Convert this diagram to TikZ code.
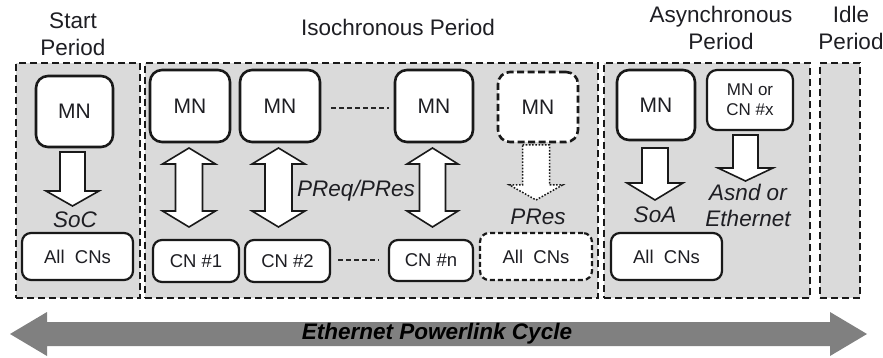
\documentclass[tikz,border=0pt]{standalone}
\usepackage{fontspec}
\setmainfont{Liberation Sans}
\definecolor{boxgrey}{RGB}{218,218,218}
\definecolor{bigarrow}{RGB}{128,128,128}
\definecolor{txt}{RGB}{30,30,35}
% block arrow pointing down: [opts] cx, top, tip, shaft half width, head half width, head length
\newcommand{\blkdown}[7][]{\draw[blockarrow,#1] ({#2-#5},#3) -- ({#2+#5},#3) -- ({#2+#5},{#4-#7}) -- ({#2+#6},{#4-#7}) -- (#2,#4) -- ({#2-#6},{#4-#7}) -- ({#2-#5},{#4-#7}) -- cycle;}
% double block arrow: cx, top tip, bottom tip, shaft half, head half, head length
\newcommand{\blkdouble}[6]{\draw[blockarrow] (#1,#2) -- ({#1+#5},{#2+#6}) -- ({#1+#4},{#2+#6}) -- ({#1+#4},{#3-#6}) -- ({#1+#5},{#3-#6}) -- (#1,#3) -- ({#1-#5},{#3-#6}) -- ({#1-#4},{#3-#6}) -- ({#1-#4},{#2+#6}) -- ({#1-#5},{#2+#6}) -- cycle;}
\begin{document}
\begin{tikzpicture}[x=1pt,y=-1pt,
  period/.style={draw=black!90, line width=2.4pt, dash pattern=on 7pt off 4pt, fill=boxgrey, inner sep=0pt},
  mnbox/.style={draw=black!90, line width=2.6pt, rounded corners=12pt, fill=white, text=txt, inner sep=0pt, font=\fontsize{21}{24}\selectfont},
  mndash/.style={mnbox, dash pattern=on 7pt off 3.5pt},
  cnbox/.style={draw=black!90, line width=2.2pt, rounded corners=9pt, fill=white, text=txt, inner sep=0pt, font=\fontsize{18.5}{20}\selectfont},
  cndash/.style={cnbox, dash pattern=on 5pt off 3pt},
  blockarrow/.style={draw=black!90, line width=1.6pt, fill=white, line join=miter},
  dotarrow/.style={dash pattern=on 1.6pt off 1.6pt, line width=1.5pt},
  head/.style={text=txt, font=\fontsize{22.5}{27}\selectfont, inner sep=0pt, align=center},
  msg/.style={text=txt, font=\fontsize{22.5}{26}\selectfont\itshape, inner sep=0pt, align=center},
  gapline/.style={draw=black!85, line width=2pt, dash pattern=on 5pt off 3pt}]
\useasboundingbox (0,0) rectangle (883,358);

% period frames
\node[period, minimum width=124pt, minimum height=235pt] (sp) at (78,180.5) {};
\node[period, minimum width=453pt, minimum height=235pt] (ip) at (371.5,180.5) {};
\node[period, minimum width=206pt, minimum height=235pt] (ap) at (707,180.5) {};
\node[period, minimum width=40pt, minimum height=235pt] (dp) at (840,180.5) {};

% period headings
\node[head] (hs) at (73,34) {Start\\Period};
\node[head] (hi) at (398,27) {Isochronous Period};
\node[head] (ha) at (721,28) {Asynchronous\\Period};
\node[head] (hd) at (851,28) {Idle\\Period};

% MN boxes
\node[mnbox, minimum width=77pt, minimum height=71pt] (mn0) at (74.5,111.5) {MN};
\node[mnbox, minimum width=80pt, minimum height=72pt] (mn1) at (190,106) {MN};
\node[mnbox, minimum width=80pt, minimum height=72pt] (mn2) at (280,106) {MN};
\node[mnbox, minimum width=78pt, minimum height=72pt] (mn3) at (434,106) {MN};
\node[mndash, minimum width=80pt, minimum height=70pt] (mn4) at (538,107) {MN};
\node[mnbox, minimum width=78pt, minimum height=70pt] (mn5) at (656,105) {MN};
\node[mnbox, line width=2.2pt, rounded corners=10pt, minimum width=86pt, minimum height=60pt,
      font=\fontsize{17}{20}\selectfont, align=center] (mnx) at (750,100) {MN or\\CN \#x};

% CN boxes
\node[cnbox, minimum width=111pt, minimum height=47pt] (all0) at (77.5,256.5) {All\ \ CNs};
\node[cnbox, minimum width=86pt, minimum height=42pt] (cn1) at (196,261) {CN \#1};
\node[cnbox, minimum width=85pt, minimum height=42pt] (cn2) at (287.5,261) {CN \#2};
\node[cnbox, minimum width=84pt, minimum height=41pt] (cnn) at (431,260.5) {CN \#n};
\node[cndash, minimum width=112pt, minimum height=47pt] (allp) at (536,256.5) {All\ \ CNs};
\node[cnbox, minimum width=111pt, minimum height=47pt] (alla) at (666.5,256.5) {All\ \ CNs};

% ellipsis lines
\draw[gapline, shorten <=10pt, shorten >=5pt] (mn2.east |- 0,108) -- (mn3.west |- 0,108);
\draw[gapline, shorten <=7pt, shorten >=9pt] (cn2.east |- 0,260) -- (cnn.west |- 0,260);

% block arrows
\blkdown{72.5}{152}{206}{12.5}{26.5}{15}
\blkdouble{189}{148}{227}{13.5}{26.5}{16}
\blkdouble{278.5}{148}{227}{13.5}{26.5}{16}
\blkdouble{432.5}{148}{227}{13}{25.5}{16}
\blkdown[dotarrow]{536}{145}{200}{13.5}{26.5}{15}
\blkdown{655}{148}{200}{13}{28}{17}
\blkdown{745.5}{135}{181}{12.5}{27.5}{13}

% message labels
\node[msg] (soc) at (75,220) {SoC};
\node[msg] (preq) at (356,191) {PReq/PRes};
\node[msg] (pres) at (538,217) {PRes};
\node[msg] (soa) at (655,215) {SoA};
\node[msg] (asnd) at (748,205) {Asnd or\\Ethernet};

% cycle arrow
\fill[bigarrow] (10,334) -- (47,312) -- (47,322) -- (830,322) -- (830,312) -- (867,334) -- (830,356) -- (830,346) -- (47,346) -- (47,356) -- cycle;
\node[text=black, font=\fontsize{22.5}{26}\selectfont\bfseries\itshape, inner sep=0pt] (cyc) at (437,334) {Ethernet Powerlink Cycle};
\end{tikzpicture}
\end{document}
